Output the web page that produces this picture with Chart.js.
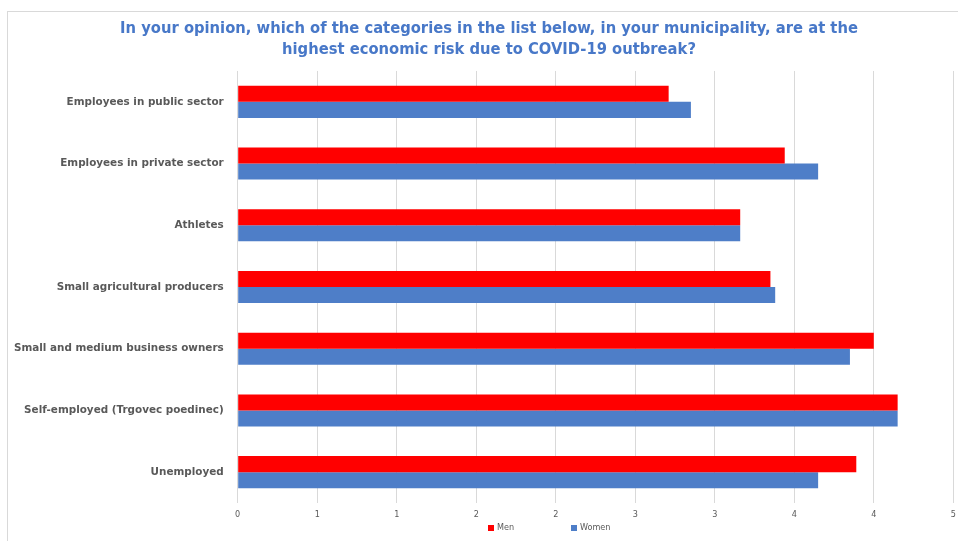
<!DOCTYPE html>
<html>
<head>
<meta charset="utf-8">
<script src="https://cdn.jsdelivr.net/npm/chart.js@4.4.0/dist/chart.umd.min.js"></script>
<style>
  html, body { margin: 0; padding: 0; background: #fff; overflow: hidden; }
  #frame { position: absolute; left: 7px; top: 11px; width: 962px; height: 529px; border: 1px solid #d9d9d9; }
  #frame canvas { display: block; }
</style>
</head>
<body>
<div id="frame"><canvas id="riskChart" width="962" height="529"></canvas></div>
<script>
const categories = [
    'Employees in public sector',
    'Employees in private sector',
    'Athletes',
    'Small agricultural producers',
    'Small and medium business owners',
    'Self-employed (Trgovec poedinec)',
    'Unemployed'
];
const menValues = [2.71, 3.44, 3.16, 3.35, 4.00, 4.15, 3.89];
const womenValues = [2.85, 3.65, 3.16, 3.38, 3.85, 4.15, 3.65];
const tickLabels = ['0', '1', '1', '2', '2', '3', '3', '4', '4', '5'];
const seriesNames = ['Men', 'Women'];
const seriesColors = ['#ff0000', '#4e7ec8'];

const titleLines = [
    'In your opinion, which of the categories in the list below, in your municipality, are at the',
    'highest economic risk due to COVID-19 outbreak?'
];

const GRAY_TEXT = '#595959';
const NARROW = "'Liberation Sans Narrow', 'Arial Narrow', 'DejaVu Sans Condensed', sans-serif";

// small square-marker legend under the axis
const bottomLegend = {
    id: 'bottomLegend',
    afterDraw(chart, args, opts) {
        const ctx = chart.ctx;
        ctx.save();
        ctx.font = opts.font;
        ctx.textBaseline = 'middle';
        let x = opts.x;
        chart.data.datasets.forEach(ds => {
            ctx.fillStyle = ds.backgroundColor;
            ctx.fillRect(x, opts.y - 3, 6, 6);
            ctx.fillStyle = opts.color;
            ctx.fillText(ds.label, x + 9, opts.y);
            x += opts.itemWidth;
        });
        ctx.restore();
    }
};

// the long category names run into the left padding; widen the label clip box
const wideCategoryLabels = {
    id: 'wideCategoryLabels',
    afterLayout(chart) {
        chart.scales.y.left = 0;
    }
};

const ctx = document.getElementById('riskChart').getContext('2d');

new Chart(ctx, {
    type: 'bar',
    data: {
        labels: categories,
        datasets: [
            { label: seriesNames[0], data: menValues, backgroundColor: seriesColors[0] },
            { label: seriesNames[1], data: womenValues, backgroundColor: seriesColors[1] }
        ]
    },
    options: {
        indexAxis: 'y',
        responsive: false,
        animation: false,
        categoryPercentage: 0.52,
        barPercentage: 1.0,
        // equal side padding keeps the title centred on the whole frame
        layout: { padding: { left: 16.7, right: 16.7, top: 0, bottom: 21 } },
        scales: {
            x: {
                min: 0,
                max: 4.5,
                ticks: {
                    stepSize: 0.5,
                    padding: 6,
                    color: GRAY_TEXT,
                    font: { family: NARROW, size: 9 },
                    callback: (val, idx) => tickLabels[idx]
                },
                grid: { color: '#d9d9d9', drawTicks: false },
                border: { display: false },
                afterFit: (scale) => { scale.height = 17; }
            },
            y: {
                grid: { display: false },
                border: { display: false },
                ticks: {
                    padding: 6,
                    color: GRAY_TEXT,
                    font: { family: "'DejaVu Sans', Verdana, sans-serif", size: 10.4, weight: 'bold' }
                },
                afterFit: (scale) => { scale.width = 213; }
            }
        },
        plugins: {
            legend: { display: false },
            tooltip: { enabled: false },
            title: {
                display: true,
                text: titleLines,
                color: '#4878c8',
                font: { family: NARROW, size: 16.4, weight: 'bold', lineHeight: 1.28 },
                padding: { top: 6.5, bottom: 10.5 }
            },
            bottomLegend: {
                x: 480,
                y: 516,
                itemWidth: 83,
                color: GRAY_TEXT,
                font: "9px " + NARROW
            }
        }
    },
    plugins: [bottomLegend, wideCategoryLabels]
});
</script>
</body>
</html>
